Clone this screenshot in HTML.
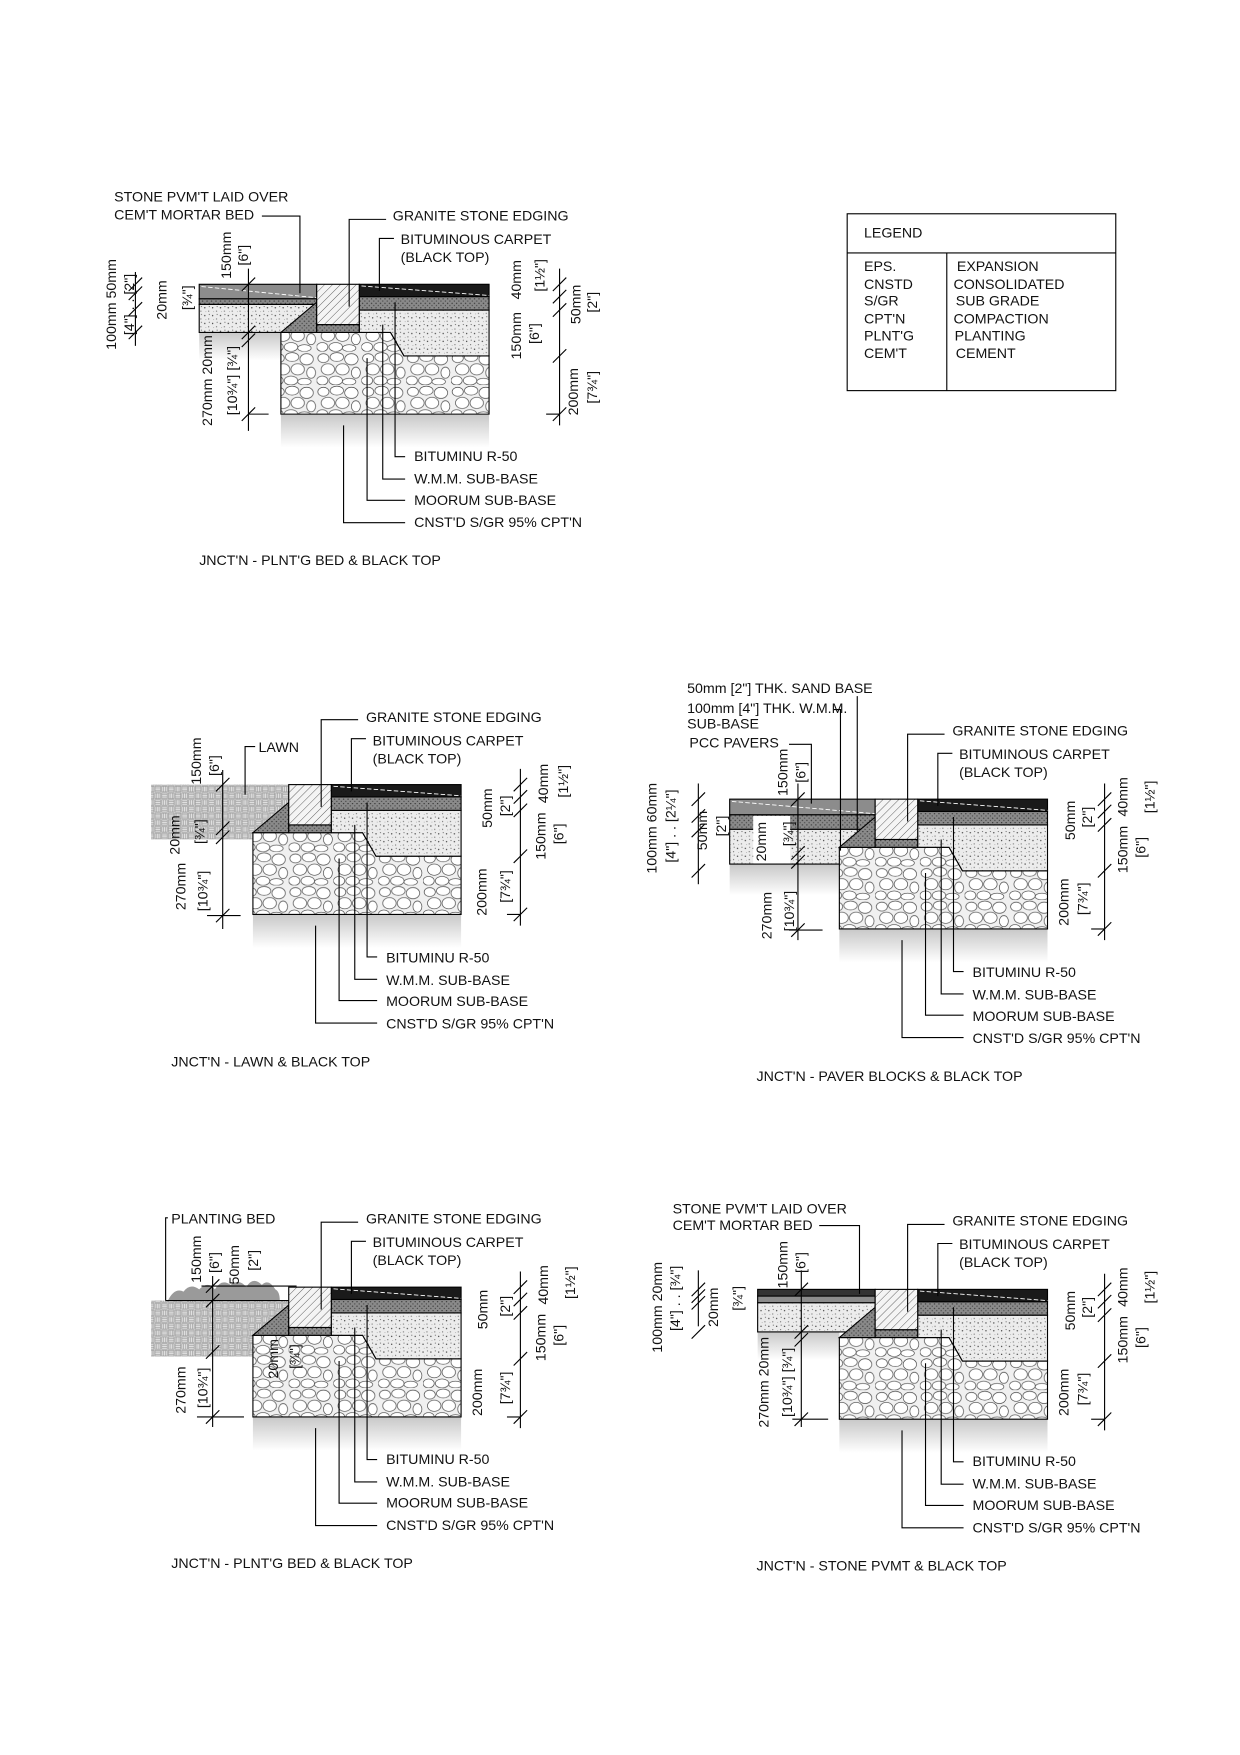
<!DOCTYPE html>
<html><head><meta charset="utf-8"><style>
html,body{margin:0;padding:0;background:#fff}
svg{display:block}
text{font-family:"Liberation Sans",Arial,sans-serif;font-size:12.7px;fill:#111}
.r{text-anchor:middle;dominant-baseline:central}
</style></head><body>
<svg width="1240" height="1755" viewBox="0 0 1108 1568" preserveAspectRatio="none" xmlns="http://www.w3.org/2000/svg">
<defs>
<pattern id="sp" width="7" height="7" patternUnits="userSpaceOnUse"><rect width="7" height="7" fill="#ececec"/><circle cx="1" cy="2" r=".6" fill="#333"/><circle cx="4.5" cy="5" r=".5" fill="#555"/><circle cx="5" cy="1" r=".4" fill="#222"/><circle cx="2" cy="5.5" r=".3" fill="#444"/></pattern>
<pattern id="dsp" width="4" height="4" patternUnits="userSpaceOnUse"><rect width="4" height="4" fill="#8a8a8a"/><circle cx="1" cy="1" r=".6" fill="#333"/><circle cx="3" cy="3" r=".6" fill="#444"/></pattern>
<pattern id="hat" width="5" height="5" patternUnits="userSpaceOnUse" patternTransform="rotate(45)"><rect width="5" height="5" fill="#f4f4f4"/><line x1="0" y1="0" x2="0" y2="5" stroke="#555" stroke-width=".8"/></pattern>
<pattern id="st" width="40" height="30" patternUnits="userSpaceOnUse"><rect width="40" height="30" fill="#f0f0f0"/><g fill="#fff" stroke="#444" stroke-width=".6"><ellipse cx="6" cy="6" rx="5" ry="4"/><ellipse cx="18" cy="5" rx="6" ry="4"/><ellipse cx="31" cy="7" rx="6" ry="5"/><ellipse cx="10" cy="16" rx="6" ry="5"/><ellipse cx="23" cy="16" rx="6" ry="5"/><ellipse cx="35" cy="19" rx="4" ry="5"/><ellipse cx="5" cy="26" rx="5" ry="4"/><ellipse cx="17" cy="26" rx="6" ry="4"/><ellipse cx="29" cy="27" rx="6" ry="3"/></g></pattern>
<pattern id="bw" width="12" height="12" patternUnits="userSpaceOnUse"><rect width="12" height="12" fill="#e2e2e2"/><g stroke="#9a9a9a" stroke-width=".6" fill="none"><rect x="0.5" y="0.5" width="5" height="5"/><line x1="0.5" y1="2" x2="5.5" y2="2"/><line x1="0.5" y1="4" x2="5.5" y2="4"/><rect x="6.5" y="6.5" width="5" height="5"/><line x1="6.5" y1="8" x2="11.5" y2="8"/><line x1="6.5" y1="10" x2="11.5" y2="10"/><rect x="6.5" y="0.5" width="5" height="5"/><line x1="8" y1="0.5" x2="8" y2="5.5"/><line x1="10" y1="0.5" x2="10" y2="5.5"/><rect x="0.5" y="6.5" width="5" height="5"/><line x1="2" y1="6.5" x2="2" y2="11.5"/><line x1="4" y1="6.5" x2="4" y2="11.5"/></g></pattern>
<linearGradient id="gf" x1="0" y1="0" x2="0" y2="1"><stop offset="0" stop-color="#c8c8c8"/><stop offset="1" stop-color="#fff"/></linearGradient>
<g id="R" stroke="#000" stroke-width="1">
<rect x="-32" y="116" width="186" height="30" fill="url(#gf)" stroke="none"/>
<polygon points="-32,43 66,43 78,64 154,64 154,116 -32,116" fill="url(#st)"/>
<polygon points="38,23 154,23 154,64 78,64 66,43 38,43" fill="url(#sp)"/>
<rect x="38" y="11" width="116" height="12" fill="url(#dsp)"/>
<rect x="38" y="0" width="116" height="11" fill="#1a1a1a"/>
<line x1="40" y1="1.5" x2="154" y2="10" stroke="#fff" stroke-dasharray="4 2" stroke-width=".8"/>
<polygon points="-32,43 0,43 0,16" fill="url(#dsp)"/>
<rect x="0" y="36" width="38" height="7" fill="url(#dsp)"/>
<rect x="0" y="0" width="38" height="36" fill="url(#hat)"/>
<g fill="none">
<polyline points="70,16 70,154 79,154"/><polyline points="59,36 59,174 79,174"/><polyline points="45,66 45,193 79,193"/><polyline points="24,126 24,213 79,213"/>
<polyline points="29,20 29,-58 62,-58"/><polyline points="56,6 56,-41 69,-41"/>
</g></g>
<g id="DR" stroke="#000" stroke-width="1"><line x1="0" y1="-14" x2="0" y2="126"/>
<line x1="-6" y1="6" x2="6" y2="-6"/><line x1="-6" y1="17" x2="6" y2="5"/><line x1="-6" y1="29" x2="6" y2="17"/><line x1="-6" y1="70" x2="6" y2="58"/><line x1="-6" y1="122" x2="6" y2="110"/><line x1="-12" y1="116" x2="0" y2="116"/></g>
</defs>

<!-- LEGEND -->
<g stroke="#000" fill="none"><rect x="757" y="191" width="240" height="158"/><line x1="757" y1="226" x2="997" y2="226"/><line x1="846" y1="226" x2="846" y2="349"/></g>
<text x="772" y="212">LEGEND</text>
<text x="772" y="242">EPS.</text><text x="772" y="258">CNSTD</text><text x="772" y="273">S/GR</text><text x="772" y="289">CPT'N</text><text x="772" y="304">PLNT'G</text><text x="772" y="320">CEM'T</text>
<text x="855" y="242">EXPANSION</text><text x="852" y="258">CONSOLIDATED</text><text x="854" y="273">SUB GRADE</text><text x="852" y="289">COMPACTION</text><text x="853" y="304">PLANTING</text><text x="854" y="320">CEMENT</text>

<!-- D1 -->
<rect x="178" y="297" width="73" height="25" fill="url(#gf)"/>
<g stroke="#000"><rect x="178" y="254" width="105" height="13" fill="#8c8c8c"/><rect x="178" y="267" width="105" height="5" fill="url(#dsp)"/><rect x="178" y="272" width="105" height="25" fill="url(#sp)"/></g>
<line x1="180" y1="256" x2="283" y2="266" stroke="#fff" stroke-dasharray="4 2" stroke-width=".8"/>
<use href="#R" x="283" y="254"/>
<use href="#DR" x="500" y="254"/>
<g stroke="#000" fill="none"><polyline points="234,193 268,193 268,262"/><line x1="121" y1="243" x2="121" y2="309"/><line x1="115" y1="260" x2="127" y2="248"/><line x1="115" y1="268" x2="127" y2="256"/><line x1="115" y1="282" x2="127" y2="270"/><line x1="115" y1="303" x2="127" y2="291"/>
<line x1="222" y1="240" x2="222" y2="385"/><line x1="216" y1="260" x2="228" y2="248"/><line x1="216" y1="303" x2="228" y2="291"/><line x1="216" y1="310" x2="228" y2="298"/><line x1="216" y1="376" x2="228" y2="364"/><line x1="222" y1="370" x2="240" y2="370"/></g>
<text x="102" y="180">STONE PVM'T LAID OVER</text><text x="102" y="196">CEM'T MORTAR BED</text>
<text x="351" y="197">GRANITE STONE EDGING</text><text x="358" y="218">BITUMINOUS CARPET</text><text x="358" y="234">(BLACK TOP)</text>
<text x="370" y="412">BITUMINU R-50</text><text x="370" y="432">W.M.M. SUB-BASE</text><text x="370" y="451">MOORUM SUB-BASE</text><text x="370" y="471">CNST'D S/GR 95% CPT'N</text>
<text x="178" y="505">JNCT'N - PLNT'G BED &amp; BLACK TOP</text>
<text class="r" transform="translate(100,272) rotate(-90)">100mm 50mm</text><text class="r" transform="translate(116,272) rotate(-90)">[4"] . . [2"]</text><text class="r" transform="translate(145,268) rotate(-90)">20mm</text><text class="r" transform="translate(168,266) rotate(-90)">[¾"]</text>
<text class="r" transform="translate(203,228) rotate(-90)">150mm</text><text class="r" transform="translate(218,228) rotate(-90)">[6"]</text><text class="r" transform="translate(186,340) rotate(-90)">270mm 20mm</text><text class="r" transform="translate(208,340) rotate(-90)">[10¾"] [¾"]</text>
<text class="r" transform="translate(462,250) rotate(-90)">40mm</text><text class="r" transform="translate(483,246) rotate(-90)">[1½"]</text><text class="r" transform="translate(515,272) rotate(-90)">50mm</text><text class="r" transform="translate(530,270) rotate(-90)">[2"]</text>
<text class="r" transform="translate(462,300) rotate(-90)">150mm</text><text class="r" transform="translate(478,298) rotate(-90)">[6"]</text><text class="r" transform="translate(513,350) rotate(-90)">200mm</text><text class="r" transform="translate(530,346) rotate(-90)">[7¾"]</text>

<!-- D2 -->
<rect x="135" y="701" width="123" height="49" fill="url(#bw)"/>
<use href="#R" x="258" y="701"/>
<use href="#DR" x="465" y="701"/>
<g stroke="#000" fill="none"><polyline points="228,667 219,667 219,710"/><line x1="199" y1="688" x2="199" y2="830"/><line x1="193" y1="707" x2="205" y2="695"/><line x1="193" y1="746" x2="205" y2="734"/><line x1="193" y1="754" x2="205" y2="742"/><line x1="193" y1="824" x2="205" y2="812"/><line x1="185" y1="818" x2="215" y2="818"/></g>
<text x="231" y="672">LAWN</text>
<text x="327" y="645">GRANITE STONE EDGING</text><text x="333" y="666">BITUMINOUS CARPET</text><text x="333" y="682">(BLACK TOP)</text>
<text x="345" y="860">BITUMINU R-50</text><text x="345" y="880">W.M.M. SUB-BASE</text><text x="345" y="899">MOORUM SUB-BASE</text><text x="345" y="919">CNST'D S/GR 95% CPT'N</text>
<text x="153" y="953">JNCT'N - LAWN &amp; BLACK TOP</text>
<text class="r" transform="translate(176,680) rotate(-90)">150mm</text><text class="r" transform="translate(192,684) rotate(-90)">[6"]</text><text class="r" transform="translate(157,746) rotate(-90)">20mm</text><text class="r" transform="translate(179,743) rotate(-90)">[¾"]</text>
<text class="r" transform="translate(162,792) rotate(-90)">270mm</text><text class="r" transform="translate(182,796) rotate(-90)">[10¾"]</text>
<text class="r" transform="translate(486,700) rotate(-90)">40mm</text><text class="r" transform="translate(504,698) rotate(-90)">[1½"]</text><text class="r" transform="translate(436,722) rotate(-90)">50mm</text><text class="r" transform="translate(452,720) rotate(-90)">[2"]</text>
<text class="r" transform="translate(484,747) rotate(-90)">150mm</text><text class="r" transform="translate(500,745) rotate(-90)">[6"]</text><text class="r" transform="translate(431,797) rotate(-90)">200mm</text><text class="r" transform="translate(452,792) rotate(-90)">[7¾"]</text>

<!-- D3 -->
<rect x="652" y="772" width="98" height="28" fill="url(#gf)"/>
<g stroke="#000"><rect x="652" y="714" width="130" height="14" fill="#8c8c8c"/><rect x="652" y="728" width="130" height="13" fill="url(#dsp)"/><rect x="652" y="741" width="130" height="31" fill="url(#sp)"/></g>
<rect x="673" y="729" width="33" height="42.5" fill="#fff"/>
<line x1="654" y1="716" x2="782" y2="727" stroke="#fff" stroke-dasharray="4 2" stroke-width=".8"/>
<use href="#R" x="782" y="714"/>
<use href="#DR" x="987" y="714"/>
<g stroke="#000" fill="none"><line x1="766" y1="622" x2="766" y2="743"/><polyline points="745,634 751,634 751,760"/><polyline points="705,665 725,665 725,718"/>
<line x1="624" y1="700" x2="624" y2="790"/><line x1="618" y1="720" x2="630" y2="708"/><line x1="618" y1="735" x2="630" y2="723"/><line x1="618" y1="748" x2="630" y2="736"/><line x1="618" y1="784" x2="630" y2="772"/>
<line x1="713" y1="700" x2="713" y2="840"/><line x1="707" y1="720" x2="719" y2="708"/><line x1="707" y1="768" x2="719" y2="756"/><line x1="707" y1="776" x2="719" y2="764"/><line x1="707" y1="837" x2="719" y2="825"/><line x1="705" y1="831" x2="735" y2="831"/></g>
<text x="614" y="619">50mm [2"] THK. SAND BASE</text><text x="614" y="637">100mm [4"] THK. W.M.M.</text><text x="614" y="651">SUB-BASE</text><text x="616" y="668">PCC PAVERS</text>
<text x="851" y="657">GRANITE STONE EDGING</text><text x="857" y="678">BITUMINOUS CARPET</text><text x="857" y="694">(BLACK TOP)</text>
<text x="869" y="873">BITUMINU R-50</text><text x="869" y="893">W.M.M. SUB-BASE</text><text x="869" y="912">MOORUM SUB-BASE</text><text x="869" y="932">CNST'D S/GR 95% CPT'N</text>
<text x="676" y="966">JNCT'N - PAVER BLOCKS &amp; BLACK TOP</text>
<text class="r" transform="translate(583,740) rotate(-90)">100mm  60mm</text><text class="r" transform="translate(600,738) rotate(-90)">[4"] . . [2¼"]</text><text class="r" transform="translate(628,742) rotate(-90)">50mm</text><text class="r" transform="translate(645,738) rotate(-90)">[2"]</text>
<text class="r" transform="translate(700,690) rotate(-90)">150mm</text><text class="r" transform="translate(716,690) rotate(-90)">[6"]</text><text class="r" transform="translate(681,752) rotate(-90)">20mm</text><text class="r" transform="translate(705,745) rotate(-90)">[¾"]</text>
<text class="r" transform="translate(686,818) rotate(-90)">270mm</text><text class="r" transform="translate(706,814) rotate(-90)">[10¾"]</text>
<text class="r" transform="translate(1004,712) rotate(-90)">40mm</text><text class="r" transform="translate(1028,712) rotate(-90)">[1½"]</text><text class="r" transform="translate(957,733) rotate(-90)">50mm</text><text class="r" transform="translate(972,730) rotate(-90)">[2"]</text>
<text class="r" transform="translate(1004,759) rotate(-90)">150mm</text><text class="r" transform="translate(1020,757) rotate(-90)">[6"]</text><text class="r" transform="translate(951,806) rotate(-90)">200mm</text><text class="r" transform="translate(968,803) rotate(-90)">[7¾"]</text>

<!-- D4 -->
<rect x="135" y="1162" width="123" height="50" fill="url(#bw)"/>
<path d="M150,1162 q6,-12 14,-8 q6,-8 14,-2 q8,-8 14,0 q6,-10 14,-4 q8,-6 14,2 q6,-10 14,-2 q6,-6 12,4 q4,2 4,10 z" fill="#9a9a9a"/>
<use href="#R" x="258" y="1150"/>
<use href="#DR" x="465" y="1150"/>
<g stroke="#000" fill="none"><polyline points="150,1088 148,1088 148,1162"/><line x1="148" y1="1162" x2="258" y2="1162"/><line x1="190" y1="1140" x2="190" y2="1275"/><line x1="184" y1="1155" x2="196" y2="1143"/><line x1="184" y1="1168" x2="196" y2="1156"/><line x1="184" y1="1214" x2="196" y2="1202"/><line x1="184" y1="1272" x2="196" y2="1260"/><line x1="176" y1="1266" x2="218" y2="1266"/><line x1="180" y1="1149" x2="265" y2="1149"/></g>
<text x="153" y="1093">PLANTING BED</text>
<text x="327" y="1093">GRANITE STONE EDGING</text><text x="333" y="1114">BITUMINOUS CARPET</text><text x="333" y="1130">(BLACK TOP)</text>
<text x="345" y="1308">BITUMINU R-50</text><text x="345" y="1328">W.M.M. SUB-BASE</text><text x="345" y="1347">MOORUM SUB-BASE</text><text x="345" y="1367">CNST'D S/GR 95% CPT'N</text>
<text x="153" y="1401">JNCT'N - PLNT'G BED &amp; BLACK TOP</text>
<text class="r" transform="translate(176,1125) rotate(-90)">150mm</text><text class="r" transform="translate(192,1128) rotate(-90)">[6"]</text><text class="r" transform="translate(210,1130) rotate(-90)">50mm</text><text class="r" transform="translate(227,1126) rotate(-90)">[2"]</text>
<text class="r" transform="translate(162,1242) rotate(-90)">270mm</text><text class="r" transform="translate(182,1240) rotate(-90)">[10¾"]</text><text class="r" transform="translate(245,1214) rotate(-90)">20mm</text><text class="r" transform="translate(264,1212) rotate(-90)">[¾"]</text>
<text class="r" transform="translate(486,1148) rotate(-90)">40mm</text><text class="r" transform="translate(510,1146) rotate(-90)">[1½"]</text><text class="r" transform="translate(432,1170) rotate(-90)">50mm</text><text class="r" transform="translate(452,1167) rotate(-90)">[2"]</text>
<text class="r" transform="translate(484,1195) rotate(-90)">150mm</text><text class="r" transform="translate(500,1193) rotate(-90)">[6"]</text><text class="r" transform="translate(427,1244) rotate(-90)">200mm</text><text class="r" transform="translate(452,1240) rotate(-90)">[7¾"]</text>

<!-- D5 -->
<rect x="677" y="1190" width="73" height="25" fill="url(#gf)"/>
<g stroke="#000"><rect x="677" y="1152" width="105" height="6" fill="#333"/><rect x="677" y="1158" width="105" height="6" fill="#8c8c8c"/><rect x="677" y="1164" width="105" height="26" fill="url(#sp)"/></g>
<use href="#R" x="782" y="1152"/>
<use href="#DR" x="987" y="1152"/>
<g stroke="#000" fill="none"><polyline points="732,1095 768,1095 768,1156"/>
<line x1="624" y1="1135" x2="624" y2="1185"/><line x1="618" y1="1158" x2="630" y2="1146"/><line x1="618" y1="1164" x2="630" y2="1152"/><line x1="618" y1="1170" x2="630" y2="1158"/><line x1="618" y1="1196" x2="630" y2="1184"/>
<line x1="716" y1="1135" x2="716" y2="1275"/><line x1="710" y1="1158" x2="722" y2="1146"/><line x1="710" y1="1196" x2="722" y2="1184"/><line x1="710" y1="1203" x2="722" y2="1191"/><line x1="710" y1="1274" x2="722" y2="1262"/><line x1="708" y1="1268" x2="740" y2="1268"/></g>
<text x="601" y="1084">STONE PVM'T LAID OVER</text><text x="601" y="1099">CEM'T MORTAR BED</text>
<text x="851" y="1095">GRANITE STONE EDGING</text><text x="857" y="1116">BITUMINOUS CARPET</text><text x="857" y="1132">(BLACK TOP)</text>
<text x="869" y="1310">BITUMINU R-50</text><text x="869" y="1330">W.M.M. SUB-BASE</text><text x="869" y="1349">MOORUM SUB-BASE</text><text x="869" y="1369">CNST'D S/GR 95% CPT'N</text>
<text x="676" y="1403">JNCT'N - STONE PVMT &amp; BLACK TOP</text>
<text class="r" transform="translate(588,1168) rotate(-90)">100mm 20mm</text><text class="r" transform="translate(604,1160) rotate(-90)">[4"] . . [¾"]</text><text class="r" transform="translate(638,1168) rotate(-90)">20mm</text><text class="r" transform="translate(660,1160) rotate(-90)">[¾"]</text>
<text class="r" transform="translate(700,1130) rotate(-90)">150mm</text><text class="r" transform="translate(716,1128) rotate(-90)">[6"]</text><text class="r" transform="translate(683,1235) rotate(-90)">270mm 20mm</text><text class="r" transform="translate(704,1235) rotate(-90)">[10¾"] [¾"]</text>
<text class="r" transform="translate(1004,1150) rotate(-90)">40mm</text><text class="r" transform="translate(1028,1150) rotate(-90)">[1½"]</text><text class="r" transform="translate(957,1171) rotate(-90)">50mm</text><text class="r" transform="translate(972,1168) rotate(-90)">[2"]</text>
<text class="r" transform="translate(1004,1197) rotate(-90)">150mm</text><text class="r" transform="translate(1020,1195) rotate(-90)">[6"]</text><text class="r" transform="translate(951,1244) rotate(-90)">200mm</text><text class="r" transform="translate(968,1241) rotate(-90)">[7¾"]</text>
</svg>
</body></html>
